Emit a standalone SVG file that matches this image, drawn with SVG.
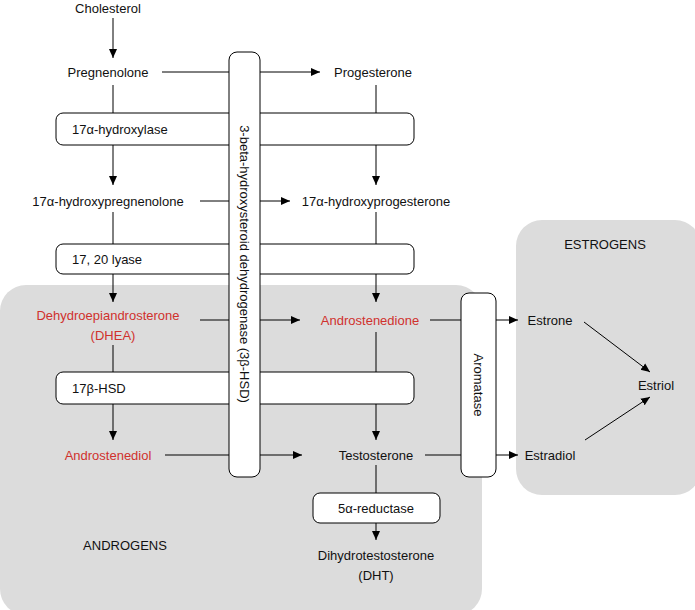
<svg xmlns="http://www.w3.org/2000/svg" width="695" height="610" viewBox="0 0 695 610">
<defs><marker id="a" markerWidth="10" markerHeight="10" refX="9" refY="5" orient="auto" markerUnits="userSpaceOnUse"><path d="M0,1 L9,5 L0,9 z" fill="#000"/></marker></defs>
<style>
text{font-family:"Liberation Sans",Arial,sans-serif;font-size:13px;fill:#111}
.r{fill:#d0312d}
.c{text-anchor:middle}
.box{fill:#fff;stroke:#000;stroke-width:1}
.ln{stroke:#000;stroke-width:1;fill:none}
.ar{stroke:#000;stroke-width:1;fill:none;marker-end:url(#a)}
.reg{fill:#dcdcdc}
</style>
<rect class="reg" x="0" y="285" width="482" height="330" rx="26"/>
<rect class="reg" x="516" y="220" width="185" height="275" rx="26"/>
<g id="connectors">
<path class="ar" d="M113,18 V58"/>
<path class="ar" d="M162,72 H320"/>
<path class="ar" d="M113,85 V185"/>
<path class="ar" d="M376,85 V185"/>
<path class="ar" d="M200,201 H290"/>
<path class="ar" d="M113,212 V302"/>
<path class="ar" d="M376,212 V302"/>
<path class="ar" d="M200,320 H300"/>
<path class="ar" d="M113,345 V440"/>
<path class="ar" d="M376,332 V440"/>
<path class="ar" d="M165,455 H302"/>
<path class="ar" d="M376,465 V540"/>
<path class="ar" d="M430,320 H518"/>
<path class="ar" d="M425,455 H518"/>
<path class="ar" d="M584,322 L650,372"/>
<path class="ar" d="M585,440 L650,397"/>
</g>
<g id="n_chol"><text class="c" x="108" y="13">Cholesterol</text></g>
<g id="n_preg"><text class="c" x="108" y="77">Pregnenolone</text></g>
<g id="n_prog"><text class="c" x="373" y="77">Progesterone</text></g>
<g id="n_hyd"><rect class="box" x="56" y="113" width="358" height="32" rx="7"/><text x="72" y="134">17α-hydroxylase</text></g>
<g id="n_ohpreg"><text class="c" x="108" y="206">17α-hydroxypregnenolone</text></g>
<g id="n_ohprog"><text class="c" x="376" y="206">17α-hydroxyprogesterone</text></g>
<g id="n_lyase"><rect class="box" x="56" y="244" width="358" height="30" rx="7"/><text x="72" y="264">17, 20 lyase</text></g>
<g id="n_dhea"><text class="c r" x="108" y="320">Dehydroepiandrosterone</text><text class="c r" x="113" y="340">(DHEA)</text></g>
<g id="n_andro"><text class="c r" x="370" y="325">Androstenedione</text></g>
<g id="n_hsd17"><rect class="box" x="56" y="372" width="358" height="32" rx="7"/><text x="72" y="393">17β-HSD</text></g>
<g id="n_androdiol"><text class="c r" x="108" y="460">Androstenediol</text></g>
<g id="n_testo"><text class="c" x="376" y="460">Testosterone</text></g>
<g id="n_red"><rect class="box" x="313" y="493" width="127" height="30" rx="7"/><text class="c" x="376" y="513">5α-reductase</text></g>
<g id="n_dht"><text class="c" x="376" y="560">Dihydrotestosterone</text><text class="c" x="376" y="580">(DHT)</text></g>
<g id="n_androgens"><text class="c" x="125" y="550">ANDROGENS</text></g>
<g id="n_hsd3"><rect class="box" x="229" y="52" width="31" height="425" rx="8"/><text class="c" transform="translate(240,264) rotate(90)">3-beta-hydroxysteroid dehydrogenase (3β-HSD)</text></g>
<g id="n_arom"><rect class="box" x="461" y="293" width="35" height="184" rx="8"/><text class="c" transform="translate(474,385) rotate(90)">Aromatase</text></g>
<g id="n_estrogens"><text class="c" x="605" y="249">ESTROGENS</text></g>
<g id="n_estrone"><text class="c" x="550" y="325">Estrone</text></g>
<g id="n_estradiol"><text class="c" x="550" y="460">Estradiol</text></g>
<g id="n_estriol"><text class="c" x="656" y="390">Estriol</text></g>
</svg>
